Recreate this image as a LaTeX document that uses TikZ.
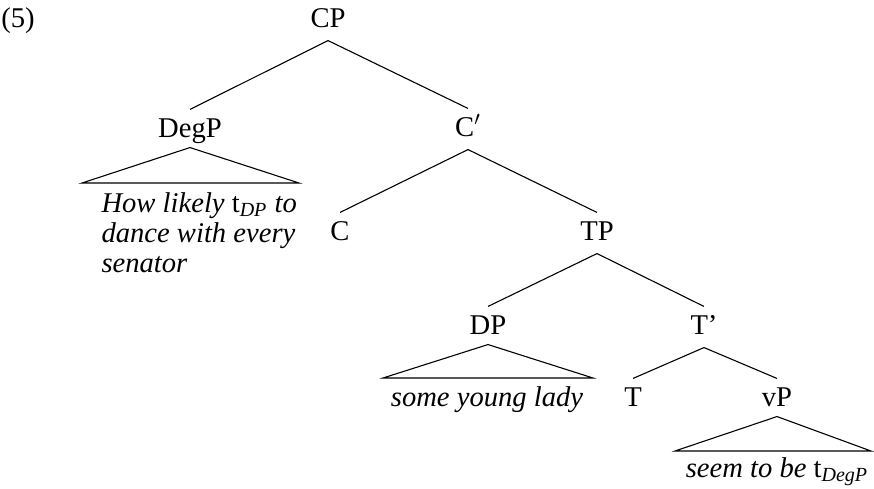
\documentclass[tikz,border=0pt]{standalone}
\usepackage{fontspec}
\setmainfont{Liberation Serif}
\usepackage{tikz}
\tikzset{every picture/.style={line width=0.55pt}}

\begin{document}
\begin{tikzpicture}[x=0.5pt,y=-0.5pt,font=\fontsize{14.3}{15}\selectfont,
  cat/.style={anchor=base,inner xsep=1pt,inner ysep=4pt,text height=9.5pt,text depth=2.5pt},
  leaf/.style={anchor=base,inner sep=0pt,font=\fontsize{14.3}{15}\selectfont\itshape}]
\useasboundingbox (0,0) rectangle (874,488);
\node[anchor=base] (ex) at (18,27) {(5)};
%
\node[cat] (cp) at (328,27) {CP};
\node[cat] (degp) at (190,137) {DegP};
\node[cat] (c1) at (468,136) {C$'$};
\node[cat] (c) at (340,240) {C};
\node[cat] (tp) at (597,240) {TP};
\node[cat] (dp) at (488,334) {DP};
\node[cat] (t1) at (704,334) {T’};
\node[cat] (t) at (633,406) {T};
\node[cat] (vp) at (777,406) {vP};
%
\foreach \Source/\Target in {%
	cp.south/degp.north,
	cp.south/c1.north,
	c1.south/c.north,
	c1.south/tp.north,
	tp.south/dp.north,
	tp.south/t1.north,
	t1.south/t.north,
	t1.south/vp.north%
    }
\draw (\Source) to (\Target);
%
\coordinate (degpl) at (82,183);
\coordinate (degpr) at (299,183);
\coordinate (dpl) at (383,378);
\coordinate (dpr) at (593,378);
\coordinate (vpl) at (675,451);
\coordinate (vpr) at (871,451);
\draw ([yshift=1.5pt]degp.south) -- (degpl) -- (degpr) -- cycle;
\draw ([yshift=1.5pt]dp.south) -- (dpl) -- (dpr) -- cycle;
\draw ([yshift=1.5pt]vp.south) -- (vpl) -- (vpr) -- cycle;
%
\node[leaf,anchor=base west,align=left] (degpt) at (101,272)
  {How likely \textup{t}\textsubscript{DP} to\\dance with every\\senator};
\node[leaf] (dpt) at (487,406) {some young lady};
\node[leaf] (vpt) at (777,477) {seem to be \textup{t}\textsubscript{DegP}};
\end{tikzpicture}
\end{document}
